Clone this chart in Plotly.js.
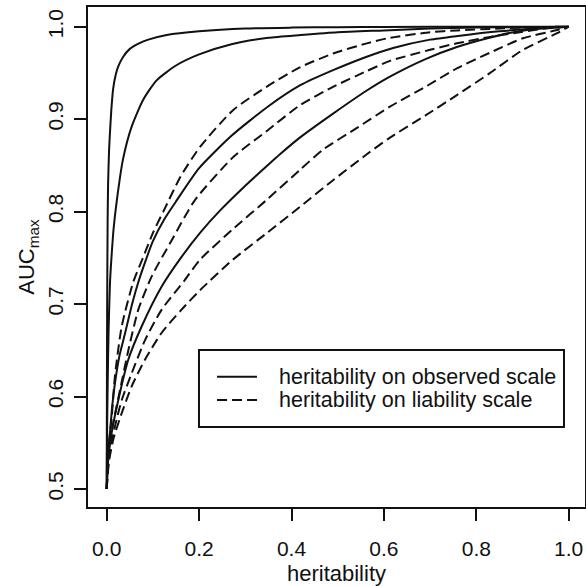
<!DOCTYPE html>
<html>
<head>
<meta charset="utf-8">
<script src="https://cdn.plot.ly/plotly-3.0.1.min.js"></script>
<style>html,body{margin:0;padding:0;background:#fff;overflow:hidden;}</style>
</head>
<body>
<div id="plot" style="width:586px;height:586px;"></div>
<script>
// ---- data ----
// observed-scale curves (solid)
const hObs1 = [0, 0.0005, 0.001, 0.002, 0.003, 0.005, 0.007, 0.01, 0.014, 0.02, 0.025, 0.035, 0.05, 0.07, 0.09, 0.13, 0.2, 0.3, 0.4, 0.5, 0.6, 0.8, 1.0];
const aucObs1 = [0.5, 0.62, 0.70, 0.79, 0.83, 0.865, 0.885, 0.91, 0.933, 0.949, 0.957, 0.967, 0.976, 0.982, 0.986, 0.991, 0.995, 0.998, 0.999, 0.9995, 0.9998, 1.0, 1.0];

const hObs2 = [0, 0.001, 0.002, 0.004, 0.007, 0.01, 0.015, 0.022, 0.035, 0.054, 0.079, 0.108, 0.15, 0.2, 0.27, 0.35, 0.42, 0.5, 0.6, 0.7, 0.8, 0.9, 1.0];
const aucObs2 = [0.5, 0.57, 0.61, 0.67, 0.722, 0.748, 0.782, 0.8125, 0.856, 0.892, 0.921, 0.942, 0.958, 0.970, 0.981, 0.988, 0.991, 0.994, 0.996, 0.998, 0.999, 0.9995, 1.0];

const hObs3 = [0, 0.003, 0.007, 0.012, 0.018, 0.028, 0.04, 0.055, 0.068, 0.085, 0.1, 0.125, 0.15, 0.2, 0.27, 0.35, 0.42, 0.49, 0.56, 0.62, 0.7, 0.76, 0.85, 0.93, 1.0];
const aucObs3 = [0.5, 0.535, 0.56, 0.59, 0.615, 0.645, 0.669, 0.70, 0.723, 0.748, 0.768, 0.792, 0.811, 0.847, 0.882, 0.914, 0.937, 0.953, 0.967, 0.977, 0.986, 0.990, 0.995, 0.998, 1.0];

const hObs4 = [0, 0.003, 0.0108, 0.025, 0.0468, 0.0758, 0.119, 0.162, 0.202, 0.245, 0.3, 0.346, 0.375, 0.418, 0.49, 0.563, 0.613, 0.69, 0.758, 0.82, 0.88, 0.94, 1.0];
const aucObs4 = [0.5, 0.53, 0.561, 0.596, 0.640, 0.676, 0.719, 0.751, 0.777, 0.801, 0.828, 0.849, 0.862, 0.880, 0.906, 0.931, 0.946, 0.965, 0.978, 0.987, 0.994, 0.998, 1.0];

// liability-scale curves (dashed)
const hLia1 = [0, 0.003, 0.0108, 0.018, 0.0325, 0.0576, 0.08, 0.101, 0.1225, 0.16, 0.202, 0.274, 0.346, 0.418, 0.49, 0.563, 0.613, 0.7, 0.758, 0.85, 0.93, 1.0];
const aucLia1 = [0.5, 0.54, 0.578, 0.623, 0.676, 0.724, 0.752, 0.778, 0.80, 0.838, 0.870, 0.91, 0.935, 0.956, 0.971, 0.982, 0.988, 0.994, 0.996, 0.998, 0.9995, 1.0];

const hLia2 = [0, 0.004, 0.0143, 0.0288, 0.0468, 0.0684, 0.0974, 0.1407, 0.191, 0.274, 0.346, 0.418, 0.49, 0.563, 0.613, 0.7, 0.758, 0.83, 0.901, 0.95, 1.0];
const aucLia2 = [0.5, 0.54, 0.572, 0.607, 0.650, 0.694, 0.730, 0.769, 0.8125, 0.859, 0.887, 0.915, 0.935, 0.952, 0.963, 0.975, 0.982, 0.989, 0.9946, 0.998, 1.0];

const hLia3 = [0, 0.005, 0.018, 0.0325, 0.054, 0.083, 0.119, 0.169, 0.202, 0.273, 0.347, 0.418, 0.468, 0.54, 0.613, 0.69, 0.758, 0.83, 0.901, 0.975, 1.0];
const aucLia3 = [0.5, 0.535, 0.568, 0.596, 0.625, 0.661, 0.694, 0.726, 0.748, 0.781, 0.813, 0.845, 0.867, 0.89, 0.9135, 0.935, 0.955, 0.972, 0.9875, 0.9964, 1.0];

const hLia4 = [0, 0.005, 0.015, 0.0325, 0.054, 0.083, 0.119, 0.162, 0.202, 0.273, 0.347, 0.418, 0.49, 0.563, 0.613, 0.69, 0.758, 0.83, 0.901, 0.975, 1.0];
const aucLia4 = [0.5, 0.53, 0.555, 0.582, 0.611, 0.640, 0.669, 0.694, 0.715, 0.748, 0.777, 0.805, 0.834, 0.862, 0.880, 0.904, 0.926, 0.95, 0.975, 0.993, 1.0];

const legendNames = ["heritability on observed scale", "heritability on liability scale"];
const xTickVals = [0, 0.2, 0.4, 0.6, 0.8, 1.0];
const yTickVals = [0.5, 0.6, 0.7, 0.8, 0.9, 1.0];

// ---- traces ----
const lineColor = "#111111";
const dashPattern = "10px,5px";
function solid(x, y) {
  return {x: x, y: y, type: "scatter", mode: "lines", name: legendNames[0], showlegend: false,
    hoverinfo: "skip", line: {color: lineColor, width: 2, shape: "spline", smoothing: 0.6}};
}
function dashed(x, y) {
  return {x: x, y: y, type: "scatter", mode: "lines", name: legendNames[1], showlegend: false,
    hoverinfo: "skip", line: {color: lineColor, width: 2, dash: dashPattern, shape: "spline", smoothing: 0.6}};
}
const traces = [
  solid(hObs1, aucObs1), solid(hObs2, aucObs2), solid(hObs3, aucObs3), solid(hObs4, aucObs4),
  dashed(hLia1, aucLia1), dashed(hLia2, aucLia2), dashed(hLia3, aucLia3), dashed(hLia4, aucLia4)
];

const fam = "Liberation Sans, Arial, Helvetica, sans-serif";
const txt = "#111";

// legend (box, key lines and labels) placed in paper coordinates
const legBox = {x0: 0.2233, x1: 0.9577, y0: 0.160, y1: 0.314};
const legKeyX = [0.2596, 0.3400];
const legRowY = [0.2606, 0.2140];
const legTextX = 0.3803;

const layout = {
  width: 586, height: 586,
  margin: {l: 88, r: 1, t: 7, b: 79, pad: 0},
  paper_bgcolor: "#fff", plot_bgcolor: "#fff",
  font: {family: fam, size: 21, color: txt},
  showlegend: false,
  xaxis: {range: [-0.0405, 1.0353], showgrid: false, zeroline: false, showline: true, mirror: true,
    linecolor: txt, linewidth: 2, ticks: "outside", ticklen: 12, tickwidth: 2, tickcolor: txt,
    tickvals: xTickVals, tickformat: ".1f", ticklabelstandoff: 10, tickfont: {family: fam, size: 21, color: txt},
    title: {text: "heritability", font: {family: fam, size: 22, color: txt}, standoff: 6}},
  yaxis: {range: [0.4805, 1.0213], showgrid: false, zeroline: false, showline: true, mirror: true,
    linecolor: txt, linewidth: 2, ticks: "outside", ticklen: 12, tickwidth: 2, tickcolor: txt,
    tickvals: yTickVals, tickformat: ".1f", tickangle: -90, ticklabelstandoff: 3, tickfont: {family: fam, size: 21, color: txt},
    title: {text: "AUC<sub>max</sub>", font: {family: fam, size: 22, color: txt}, standoff: 3}},
  shapes: [
    {type: "rect", xref: "paper", yref: "paper", x0: legBox.x0, x1: legBox.x1, y0: legBox.y0, y1: legBox.y1,
      line: {color: txt, width: 2}, fillcolor: "#fff", layer: "above"},
    {type: "line", xref: "paper", yref: "paper", x0: legKeyX[0], x1: legKeyX[1], y0: legRowY[0], y1: legRowY[0],
      line: {color: lineColor, width: 2}, layer: "above"},
    {type: "line", xref: "paper", yref: "paper", x0: legKeyX[0], x1: legKeyX[1], y0: legRowY[1], y1: legRowY[1],
      line: {color: lineColor, width: 2, dash: dashPattern}, layer: "above"}
  ],
  annotations: [
    {xref: "paper", yref: "paper", x: legTextX, y: legRowY[0], xanchor: "left", yanchor: "middle", showarrow: false,
      text: legendNames[0], font: {family: fam, size: 21.5, color: txt}},
    {xref: "paper", yref: "paper", x: legTextX, y: legRowY[1], xanchor: "left", yanchor: "middle", showarrow: false,
      text: legendNames[1], font: {family: fam, size: 21.5, color: txt}}
  ]
};

Plotly.newPlot("plot", traces, layout, {staticPlot: true, displayModeBar: false});
</script>
</body>
</html>
